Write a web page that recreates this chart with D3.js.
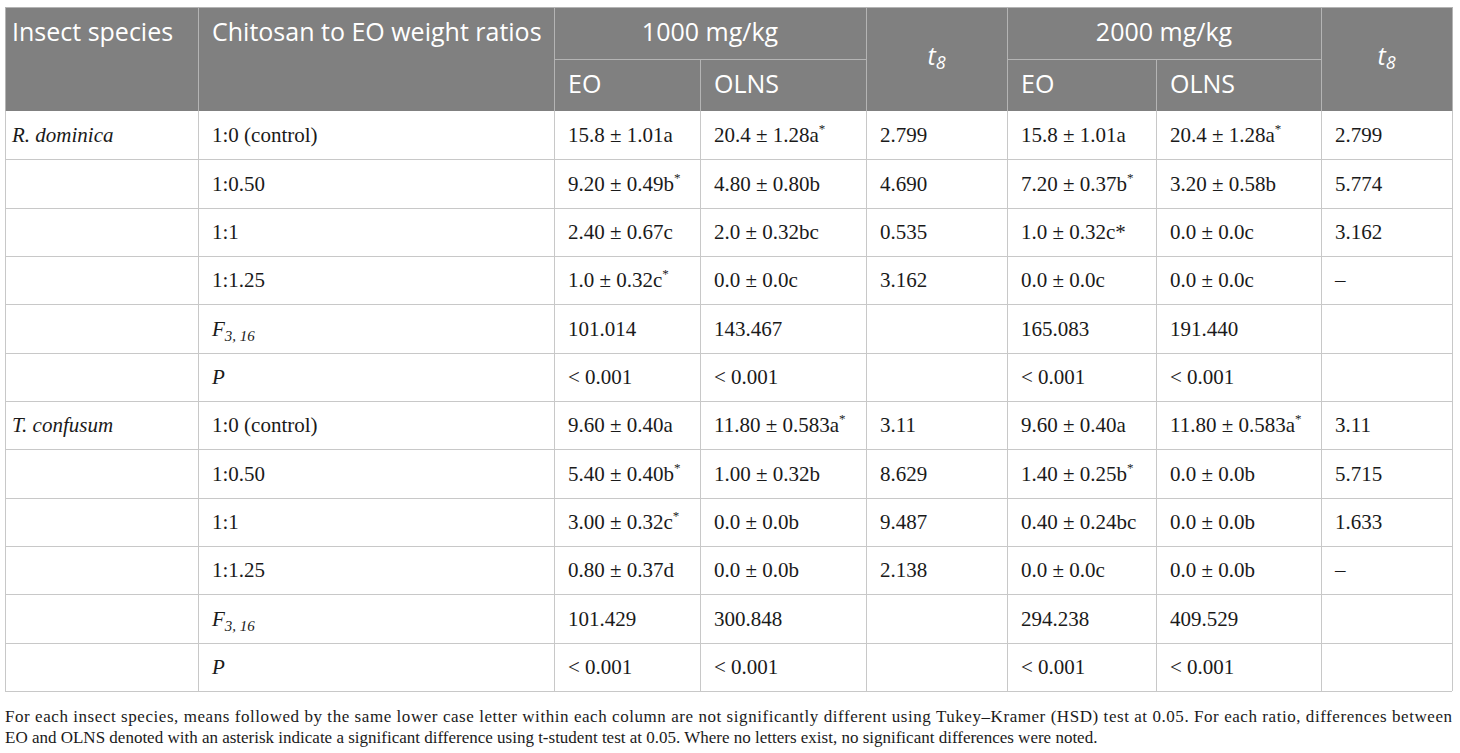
<!DOCTYPE html>
<html>
<head>
<meta charset="utf-8">
<script src="https://cdn.jsdelivr.net/npm/d3@7"></script>
<style>
  body { margin: 0; background: #fff; }
  svg { display: block; }
</style>
</head>
<body>
<svg id="chart"></svg>
<script>
// Table: mortality of insects, chitosan to EO ratios, 1000 and 2000 mg/kg
const width = 1460;
const height = 753;

const species = ["R. dominica", "T. confusum"];
const ratios = ["1:0 (control)", "1:0.50", "1:1", "1:1.25", "F", "P"];

// "^*" = superscript asterisk, "*" = plain asterisk
const rdEO1000 = ["15.8 ± 1.01a", "9.20 ± 0.49b^*", "2.40 ± 0.67c", "1.0 ± 0.32c^*", "101.014", "< 0.001"];
const rdOLNS1000 = ["20.4 ± 1.28a^*", "4.80 ± 0.80b", "2.0 ± 0.32bc", "0.0 ± 0.0c", "143.467", "< 0.001"];
const rdT1000 = ["2.799", "4.690", "0.535", "3.162", "", ""];
const rdEO2000 = ["15.8 ± 1.01a", "7.20 ± 0.37b^*", "1.0 ± 0.32c*", "0.0 ± 0.0c", "165.083", "< 0.001"];
const rdOLNS2000 = ["20.4 ± 1.28a^*", "3.20 ± 0.58b", "0.0 ± 0.0c", "0.0 ± 0.0c", "191.440", "< 0.001"];
const rdT2000 = ["2.799", "5.774", "3.162", "–", "", ""];

const tcEO1000 = ["9.60 ± 0.40a", "5.40 ± 0.40b^*", "3.00 ± 0.32c^*", "0.80 ± 0.37d", "101.429", "< 0.001"];
const tcOLNS1000 = ["11.80 ± 0.583a^*", "1.00 ± 0.32b", "0.0 ± 0.0b", "0.0 ± 0.0b", "300.848", "< 0.001"];
const tcT1000 = ["3.11", "8.629", "9.487", "2.138", "", ""];
const tcEO2000 = ["9.60 ± 0.40a", "1.40 ± 0.25b^*", "0.40 ± 0.24bc", "0.0 ± 0.0c", "294.238", "< 0.001"];
const tcOLNS2000 = ["11.80 ± 0.583a^*", "0.0 ± 0.0b", "0.0 ± 0.0b", "0.0 ± 0.0b", "409.529", "< 0.001"];
const tcT2000 = ["3.11", "5.715", "1.633", "–", "", ""];

const footnote = [
  "For each insect species, means followed by the same lower case letter within each column are not significantly different using Tukey–Kramer (HSD) test at 0.05. For each ratio, differences between",
  "EO and OLNS denoted with an asterisk indicate a significant difference using t-student test at 0.05. Where no letters exist, no significant differences were noted."
];

// column edges
const colX = [5, 198, 554, 700, 866, 1007, 1156, 1321, 1452];
const headTop = 7, headMid = 59, headBottom = 111, bodyBottom = 691;

const headFill = "#808080";
const headLine = "#b4b4b4";
const gridLine = "#c8c8c8";
const serif = "'Liberation Serif', 'DejaVu Serif', serif";
const sans = "'Open Sans', 'Noto Sans', sans-serif";

// build rows
const rows = [];
species.forEach((sp, si) => {
  const cols = si === 0
    ? [rdEO1000, rdOLNS1000, rdT1000, rdEO2000, rdOLNS2000, rdT2000]
    : [tcEO1000, tcOLNS1000, tcT1000, tcEO2000, tcOLNS2000, tcT2000];
  ratios.forEach((r, ri) => {
    rows.push({
      species: ri === 0 ? sp : "",
      ratio: r,
      values: cols.map(c => c[ri])
    });
  });
});

const y = d3.scaleBand()
  .domain(d3.range(rows.length))
  .range([headBottom, bodyBottom]);

const svg = d3.select("#chart")
  .attr("width", width)
  .attr("height", height);

// header background
svg.append("rect")
  .attr("x", colX[0]).attr("y", headTop)
  .attr("width", colX[8] - colX[0]).attr("height", headBottom - headTop)
  .attr("fill", headFill);

// header lines
const hl = svg.append("g").attr("stroke", headLine).attr("stroke-width", 1);
hl.append("line").attr("x1", colX[0]).attr("x2", colX[8]).attr("y1", headTop + 0.5).attr("y2", headTop + 0.5);
[[2, 4], [5, 7]].forEach(([a, b]) => {
  hl.append("line").attr("x1", colX[a]).attr("x2", colX[b]).attr("y1", headMid + 0.5).attr("y2", headMid + 0.5);
});
colX.forEach((x, i) => {
  const y1 = (i === 3 || i === 6) ? headMid : headTop;
  hl.append("line").attr("x1", x + 0.5).attr("x2", x + 0.5).attr("y1", y1).attr("y2", headBottom);
});

// header text
const ht = svg.append("g")
  .attr("fill", "#fff")
  .attr("font-family", sans)
  .attr("font-size", 25);

const headRow1 = headTop + (headMid - headTop) / 2 + 8;
const headRow2 = headMid + (headBottom - headMid) / 2 + 8;

ht.append("text").attr("x", colX[0] + 7).attr("y", headRow1).text("Insect species");
ht.append("text").attr("x", colX[1] + 14).attr("y", headRow1).text("Chitosan to EO weight ratios");
ht.append("text").attr("x", (colX[2] + colX[4]) / 2).attr("y", headRow1).attr("text-anchor", "middle").text("1000 mg/kg");
ht.append("text").attr("x", (colX[5] + colX[7]) / 2).attr("y", headRow1).attr("text-anchor", "middle").text("2000 mg/kg");
[[2, "EO"], [3, "OLNS"], [5, "EO"], [6, "OLNS"]].forEach(([c, t]) => {
  ht.append("text").attr("x", colX[c] + 14).attr("y", headRow2).text(t);
});
[4, 7].forEach(c => {
  const t = ht.append("text")
    .attr("x", (colX[c] + colX[c + 1]) / 2)
    .attr("y", (headTop + headBottom) / 2 + 6)
    .attr("text-anchor", "middle")
    .attr("font-style", "italic");
  t.append("tspan").text("t");
  t.append("tspan").attr("font-size", 18).attr("dy", 4).text("8");
});

// body grid
const grid = svg.append("g").attr("stroke", gridLine).attr("stroke-width", 1);
rows.forEach((d, i) => {
  grid.append("line")
    .attr("x1", colX[0]).attr("x2", colX[8])
    .attr("y1", Math.round(y(i) + y.bandwidth()) + 0.5)
    .attr("y2", Math.round(y(i) + y.bandwidth()) + 0.5);
});
colX.forEach(x => {
  grid.append("line").attr("x1", x + 0.5).attr("x2", x + 0.5).attr("y1", headBottom).attr("y2", bodyBottom);
});

// body text
const body = svg.append("g")
  .attr("fill", "#1a1a1a")
  .attr("font-family", serif)
  .attr("font-size", 21);

function addValue(sel, str) {
  if (str.endsWith("^*")) {
    sel.append("tspan").text(str.slice(0, -2));
    sel.append("tspan").attr("font-size", 13).attr("dy", -9).text("*");
  } else {
    sel.text(str);
  }
}

const rowG = body.selectAll("g.row")
  .data(rows)
  .join("g")
  .attr("class", "row")
  .attr("transform", (d, i) => `translate(0,${y(i) + y.bandwidth() / 2 + 7})`);

rowG.append("text")
  .attr("x", colX[0] + 7)
  .attr("font-style", "italic")
  .text(d => d.species);

rowG.each(function (d) {
  const g = d3.select(this);
  const t = g.append("text").attr("x", colX[1] + 14);
  if (d.ratio === "F") {
    t.append("tspan").attr("font-style", "italic").text("F");
    t.append("tspan").attr("font-style", "italic").attr("font-size", 15).attr("dy", 5).text("3,  16");
  } else if (d.ratio === "P") {
    t.append("tspan").attr("font-style", "italic").text("P");
  } else {
    t.text(d.ratio);
  }
  d.values.forEach((v, ci) => {
    const tt = g.append("text").attr("x", colX[ci + 2] + 14);
    addValue(tt, v);
  });
});

// footnote
const fn = svg.append("g")
  .attr("fill", "#1a1a1a")
  .attr("font-family", serif)
  .attr("font-size", 17);
fn.append("text")
  .attr("x", colX[0]).attr("y", 722)
  .attr("textLength", colX[8] - colX[0])
  .attr("lengthAdjust", "spacing")
  .text(footnote[0]);
fn.append("text")
  .attr("x", colX[0]).attr("y", 743)
  .text(footnote[1]);
</script>
</body>
</html>
